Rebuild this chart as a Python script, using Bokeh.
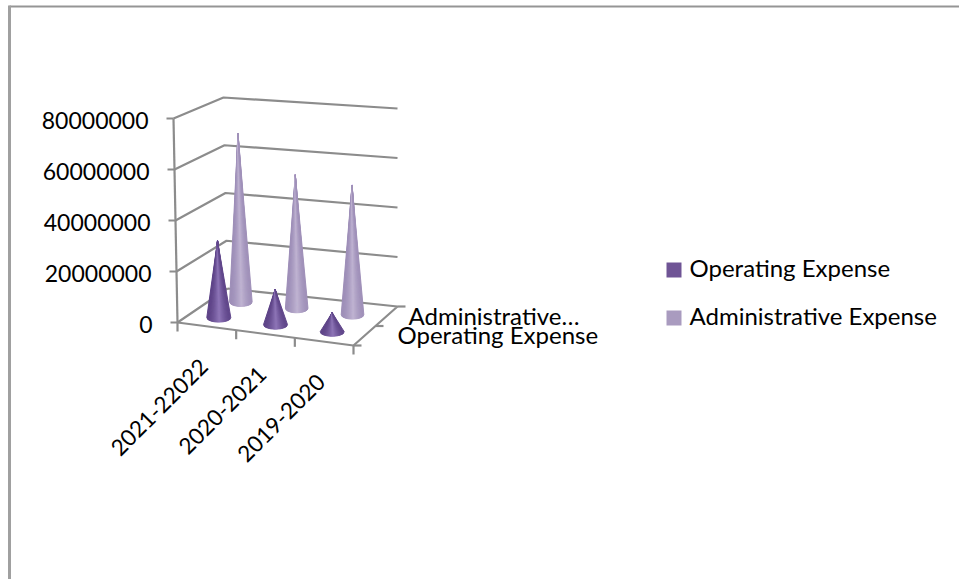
from bokeh.core.properties import value
from bokeh.embed import file_html
from bokeh.models import Range1d
from bokeh.plotting import figure
from bokeh.resources import INLINE
import math

categories = ["2021-22022", "2020-2021", "2019-2020"]
series_names = ["Operating Expense", "Administrative Expense"]
depth_labels = ["Operating Expense", "Administrative…"]
operating_expense = [30500000, 14000000, 7500000]
administrative_expense = [69000000, 54000000, 52000000]
value_ticks = [0, 20000000, 40000000, 60000000, 80000000]

FONT = value("Lato")
DIGIT_SIZE = "23px"
CATEGORY_SIZE = "22.5px"
TEXT_SIZE = "24px"
AXIS_COLOR = "#8c8c8c"
AXIS_WIDTH = 2.2

# Corners of the floor and wall height scale of the 3D box, in page pixels
FL, FR, BL, BR = (177, 322), (353, 345), (227, 288), (397, 306)
H_FL, H_FR, H_BL, H_BR = 204, 206, 191, 198
V_MAX = 80000000


def project(u, v, z=0):
    """Map category fraction u, depth fraction v and value z to page pixels."""
    x = (1 - u) * ((1 - v) * FL[0] + v * BL[0]) + u * ((1 - v) * FR[0] + v * BR[0])
    y = (1 - u) * ((1 - v) * FL[1] + v * BL[1]) + u * ((1 - v) * FR[1] + v * BR[1])
    h = (1 - u) * ((1 - v) * H_FL + v * H_BL) + u * ((1 - v) * H_FR + v * H_BR)
    return x - 4 * z / V_MAX * (1 - u), y - h * z / V_MAX


def mix(a, b, t):
    return "#%02x%02x%02x" % tuple(round(a[i] + (b[i] - a[i]) * t) for i in range(3))


p = figure(width=959, height=579, output_backend="svg", toolbar_location=None,
           x_range=Range1d(0, 959), y_range=Range1d(579, 0), min_border=0,
           outline_line_color=None, background_fill_color="white")
p.axis.visible = False
p.grid.visible = False

# Chart frame: only the top and left edges fall inside the page
p.line([959, 9], [6, 6], line_color="#959595", line_width=2)
p.line([9, 9], [5, 579], line_color="#a0a0a0", line_width=3)

# Wall gridlines running along the left wall and the back wall
for val in value_ticks:
    if val == 0:
        continue
    pts = [project(0, 0, val), project(0, 1, val), project(1, 1, val)]
    p.line([q[0] for q in pts], [q[1] for q in pts], line_color=AXIS_COLOR, line_width=AXIS_WIDTH)

# Floor outline, value axis and the tick marks on each axis
corners = [project(0, 1), project(1, 1), project(1, 0), project(0, 0), project(0, 1)]
p.line([q[0] for q in corners], [q[1] for q in corners], line_color=AXIS_COLOR, line_width=AXIS_WIDTH)
top = project(0, 0, V_MAX)
bottom = project(0, 0, 0)
p.line([top[0], bottom[0]], [top[1], bottom[1]], line_color=AXIS_COLOR, line_width=AXIS_WIDTH)
for val in value_ticks:
    q = project(0, 0, val)
    p.line([q[0] - 7, q[0]], [q[1], q[1]], line_color=AXIS_COLOR, line_width=AXIS_WIDTH)
for i in range(len(categories) + 1):
    q = project(i / 3, 0)
    p.line([q[0], q[0]], [q[1], q[1] + 9], line_color=AXIS_COLOR, line_width=AXIS_WIDTH)
for i in range(3):
    q = project(1, i / 2)
    p.line([q[0], q[0] + 8], [q[1], q[1]], line_color=AXIS_COLOR, line_width=AXIS_WIDTH)

# Cones, back row first, each built from shaded vertical slices
SLICES = 24
palettes = {
    0: ((0x5e, 0x44, 0x88), (0x8f, 0x76, 0xb8)),
    1: ((0x9e, 0x8f, 0xb8), (0xc0, 0xb4, 0xd2)),
}
rows = [(1, administrative_expense), (0, operating_expense)]
for row, values in rows:
    dark, light = palettes[row]
    for i, val in enumerate(values):
        u = 0.165 + 0.325 * i
        v = 0.25 + 0.45 * row
        cx, cy = project(u, v)
        ax, ay = project(u, v, val)
        half_w, half_h = (12, 4.5) if row == 0 else (11.3, 4.5)
        xs, ys, colors = [], [], []
        for s in range(SLICES):
            t0 = -1 + 2 * s / SLICES
            t1 = -1 + 2 * (s + 1) / SLICES
            px0, px1 = cx + half_w * t0, cx + half_w * t1
            py0 = cy + half_h * math.sqrt(1 - t0 * t0)
            py1 = cy + half_h * math.sqrt(1 - t1 * t1)
            xs.append([ax, px0, px1])
            ys.append([ay, py0, py1])
            mid = abs((t0 + t1) / 2 - 0.1)
            colors.append(mix(dark, light, max(0, 1 - mid) ** 1.5))
        p.patches(xs, ys, fill_color=colors, line_color=colors, line_width=1)

# Value labels follow the slight lean of the value axis
p.text([152 - 4 * val / V_MAX for val in value_ticks],
       [project(0, 0, val)[1] + 2 for val in value_ticks],
       text=[str(val) for val in value_ticks], text_align="right", text_baseline="middle",
       text_font_size=DIGIT_SIZE, text_font=FONT, text_color="black")

# Category labels along the front edge of the floor
for i, label in enumerate(categories):
    q = project((i + 0.5) / 3, 0)
    p.text([q[0] - 3.5], [q[1] + 36], text=[label], angle=math.radians(45),
           angle_units="rad", text_align="right", text_baseline="middle",
           text_font_size=CATEGORY_SIZE, text_font=FONT, text_color="black")

# Depth labels beside the right edge of the floor
p.text([397, 408], [334, 314.5], text=depth_labels, text_align="left", text_baseline="middle",
       text_font_size=TEXT_SIZE, text_font=FONT, text_color="black")

# Legend
p.rect([673.5, 673.5], [269.5, 317.5], width=15, height=15,
       fill_color=["#6f5495", "#a99bbf"], line_color=None)
p.text([689, 689], [267, 315], text=series_names, text_align="left", text_baseline="middle",
       text_font_size=TEXT_SIZE, text_font=FONT, text_color="black")

open("out.html", "w").write(file_html(p, INLINE))
